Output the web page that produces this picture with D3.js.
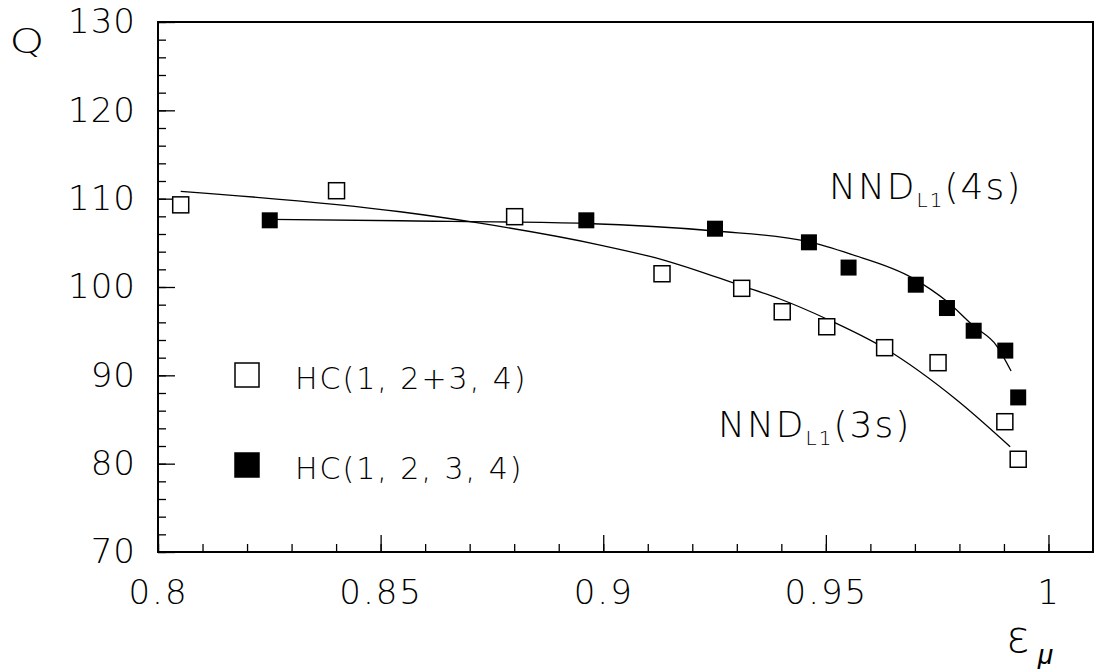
<!DOCTYPE html>
<html>
<head>
<meta charset="utf-8">
<script src="https://cdn.jsdelivr.net/npm/d3@7"></script>
<style>
  body { margin: 0; background: #fff; }
  text { font-family: 'DejaVu Sans', sans-serif; font-weight: 200; fill: #000; }
</style>
</head>
<body>
<div id="canvas"></div>
<script>
// HC(1, 2+3, 4) - open squares
const epsOpen = [0.8051, 0.8401, 0.8801, 0.9132, 0.9311, 0.9402, 0.9502, 0.9632, 0.9752, 0.9902, 0.9932];
const qOpen   = [109.3, 110.9, 107.96, 101.5, 99.85, 97.2, 95.5, 93.13, 91.43, 84.75, 80.5];

// HC(1, 2, 3, 4) - filled squares
const epsFilled = [0.8251, 0.8962, 0.9251, 0.9462, 0.9551, 0.9702, 0.9772, 0.9832, 0.9903, 0.9932];
const qFilled   = [107.55, 107.55, 106.6, 105.06, 102.2, 100.26, 97.62, 95.05, 92.8, 87.5];

// fitted curves
const eps3s = [0.8051, 0.8544, 0.8716, 0.8993, 0.9132, 0.9312, 0.9397, 0.9502, 0.9632, 0.9794, 0.9914];
const q3s   = [110.83, 108.52, 107.28, 104.75, 103.11, 100.11, 98.64, 96.38, 93.06, 87.21, 81.92];
const eps4s = [0.8251, 0.8544, 0.8961, 0.9251, 0.9461, 0.9554, 0.9696, 0.9771, 0.9832, 0.9884, 0.9916];
const q4s   = [107.66, 107.50, 107.19, 106.34, 105.13, 103.74, 100.98, 98.41, 95.58, 93.32, 90.49];

// axis ticks
const xMajor = [0.8, 0.85, 0.9, 0.95, 1];
const yMajor = [70, 80, 90, 100, 110, 120, 130];
const legendLabels = ['HC(1, 2+3, 4)', 'HC(1, 2, 3, 4)'];

const width = 1096;
const height = 669;

const svg = d3.select('#canvas')
              .append('svg')
              .attr('width', width)
              .attr('height', height);

const x = d3.scaleLinear().domain([0.8, 1.01]).range([158, 1093]);
const y = d3.scaleLinear().domain([70, 130]).range([552, 22]);

// minor ticks
const xMinor = d3.range(80, 101).map(d => d / 100);
const yMinor = d3.range(70, 131, 2);

svg.append('g')
   .attr('transform', `translate(0,${y(70)})`)
   .call(d3.axisBottom(x).tickValues(xMinor).tickSize(-8).tickFormat(''))
   .call(g => g.select('.domain').remove());

svg.append('g')
   .attr('transform', `translate(${x(0.8)},0)`)
   .call(d3.axisLeft(y).tickValues(yMinor).tickSize(-8).tickFormat(''))
   .call(g => g.select('.domain').remove());

// major ticks + labels
const xAxis = svg.append('g')
   .attr('transform', `translate(0,${y(70)})`)
   .call(d3.axisBottom(x).tickValues(xMajor).tickSize(-17).tickPadding(28).tickFormat(d3.format('')));
xAxis.select('.domain').remove();
xAxis.selectAll('text')
     .attr('font-size', 34).attr('letter-spacing', 2).attr('font-family', null);

const yAxis = svg.append('g')
   .attr('transform', `translate(${x(0.8)},0)`)
   .call(d3.axisLeft(y).tickValues(yMajor).tickSize(-17).tickPadding(22).tickFormat(d3.format('')));
yAxis.select('.domain').remove();
yAxis.selectAll('text')
     .attr('font-size', 34).attr('letter-spacing', 1).attr('font-family', null);

svg.selectAll('.tick line').attr('stroke', '#000').attr('stroke-width', 1.3);

// frame
svg.append('rect')
   .attr('x', x(0.8)).attr('y', y(130))
   .attr('width', x(1.01) - x(0.8)).attr('height', y(70) - y(130))
   .attr('fill', 'none').attr('stroke', '#000').attr('stroke-width', 2);

// curves
const line = d3.line().x(d => x(d[0])).y(d => y(d[1])).curve(d3.curveMonotoneX);
svg.append('path').datum(d3.zip(eps3s, q3s))
   .attr('d', line).attr('fill', 'none').attr('stroke', '#000').attr('stroke-width', 1.3);
svg.append('path').datum(d3.zip(eps4s, q4s))
   .attr('d', line).attr('fill', 'none').attr('stroke', '#000').attr('stroke-width', 1.3);

// markers
const s = 16;
svg.selectAll('.open').data(d3.zip(epsOpen, qOpen)).enter().append('rect')
   .attr('x', d => x(d[0]) - s / 2).attr('y', d => y(d[1]) - s / 2)
   .attr('width', s).attr('height', s)
   .attr('fill', '#fff').attr('stroke', '#000').attr('stroke-width', 1.5);
svg.selectAll('.filled').data(d3.zip(epsFilled, qFilled)).enter().append('rect')
   .attr('x', d => x(d[0]) - s / 2).attr('y', d => y(d[1]) - s / 2)
   .attr('width', s).attr('height', s)
   .attr('fill', '#000');

// legend
const leg = svg.selectAll('.leg').data(legendLabels).enter().append('g')
   .attr('transform', (d, i) => `translate(235,${363 + i * 90})`);
leg.append('rect').attr('width', 24).attr('height', 24)
   .attr('fill', (d, i) => i ? '#000' : '#fff')
   .attr('stroke', '#000').attr('stroke-width', 1.5);
leg.append('text').attr('x', 60).attr('y', 26)
   .attr('font-size', 30).attr('letter-spacing', 2)
   .text(d => d);

// curve labels
const nnd = (px, py, tag) => {
  const t = svg.append('text').attr('x', px).attr('y', py)
               .attr('font-size', 36).attr('letter-spacing', 2);
  t.append('tspan').text('NND');
  t.append('tspan').attr('font-size', 20).attr('dy', 8).text('L1');
  t.append('tspan').attr('dy', -8).text(tag);
};
nnd(829, 199, '(4s)');
nnd(718, 437, '(3s)');

// axis titles
svg.append('text').attr('transform', 'translate(27,53) scale(1.3,1)')
   .attr('text-anchor', 'middle').attr('font-size', 34).text('Q');
const xt = svg.append('text').attr('x', 1006).attr('y', 652).attr('font-size', 44);
xt.append('tspan').text('ε');
xt.append('tspan').attr('font-size', 28).attr('font-style', 'italic')
  .attr('font-family', 'Liberation Sans').attr('font-weight', 400)
  .attr('dx', 8).attr('dy', 12).text('μ');
</script>
</body>
</html>
